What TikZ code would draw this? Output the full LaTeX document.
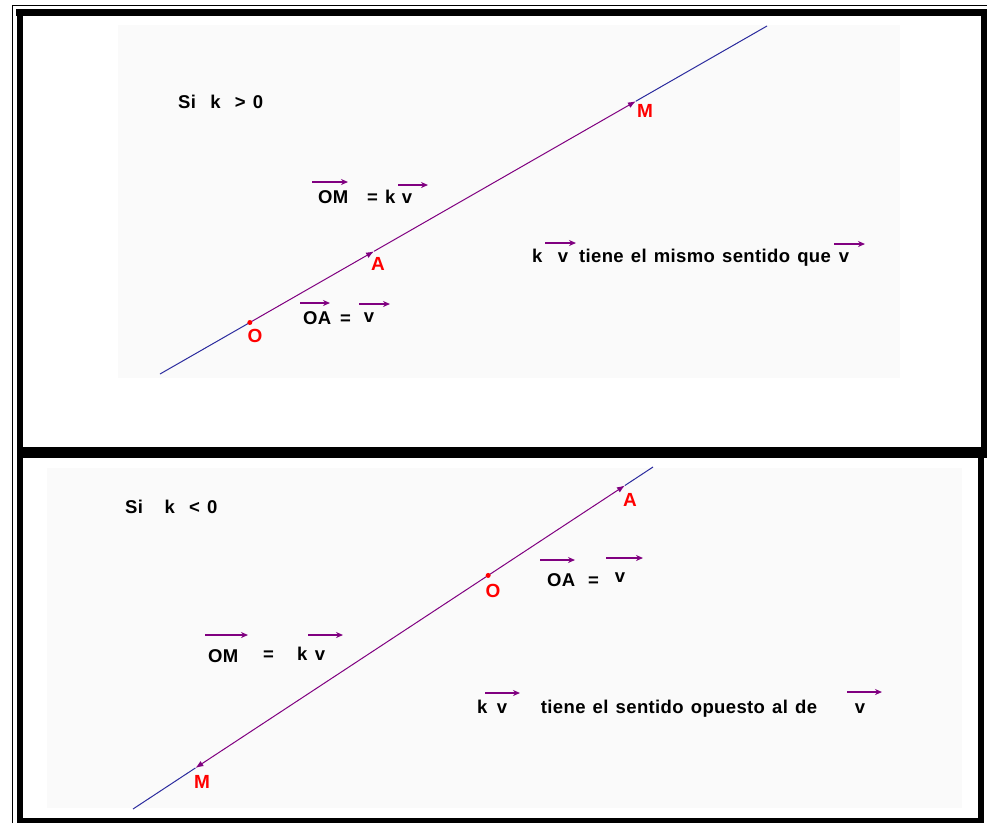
\documentclass[tikz,border=0pt]{standalone}
\usepackage{fontspec}
\newfontfamily\pixfont{Liberation Sans}[LetterSpace=2,WordSpace=1.3]
\usetikzlibrary{arrows.meta,calc}
\definecolor{vpurple}{HTML}{800080}
\definecolor{lblue}{HTML}{2B2B9E}
\definecolor{panelbg}{HTML}{FAFAFA}

\begin{document}
\begin{tikzpicture}[x=1pt, y=-1pt,
  txt/.style={font=\pixfont\bfseries\fontsize{18.5}{20}\selectfont, inner sep=0pt, anchor=base west},
  mid/.style={txt, anchor=base},
  pt/.style={font=\pixfont\bfseries\fontsize{19}{20}\selectfont, text=red, inner sep=0pt, anchor=base},
  vec/.style={vpurple, line width=1.2pt, -{Stealth[length=7pt,width=6pt]}},
  seg/.style={vpurple, line width=1pt, -{Latex[length=8pt,width=6pt]}},
  axis/.style={lblue, line width=1pt},
]
  \useasboundingbox (0,0) rectangle (987,823);
  \fill[panelbg] (118,25) rectangle (900,378);
  \fill[panelbg] (47,468) rectangle (962,808);
  \draw[line width=1pt] (12.5,823) -- (12.5,5.5) -- (987,5.5);
  \fill (16,9) rectangle (987,16);
  \fill (17,9) rectangle (23,823);
  \fill (17,447) rectangle (987,458);
  \fill (17,818) rectangle (981,823);
  \fill (981,9) rectangle (987,447);
  \fill (978,458) rectangle (984,823);

  \coordinate (p1) at (160,374);
  \coordinate (p2) at (767,26);
  \coordinate (O1) at ($(p1)!0.148!(p2)$);
  \coordinate (A1) at ($(p1)!0.3526!(p2)$);
  \coordinate (M1) at ($(p1)!0.784!(p2)$);
  \draw[axis] (p1) -- (O1);
  \draw[axis] (M1) -- (p2);
  \draw[seg] (O1) -- (A1);
  \draw[seg] (A1) -- (M1);
  \fill[red] (O1) circle (2.5);
  \node[pt] (lO1) at (255,342) {O};
  \node[pt] (lA1) at (378,270) {A};
  \node[pt] (lM1) at (645,117) {M};

  \node[txt] (cond1) at (178,108) {Si~~k~~>~0};
  \node[txt] (om1) at (318,203) {OM};
  \node[txt] (eq1) at (367,203) {= k};
  \node[mid] (v1) at (407,203) {v};
  \node[txt] (oa1) at (303,324) {OA};
  \node[txt] (eq2) at (340,324) {=};
  \node[mid] (v2) at (369,322) {v};
  \node[txt] (kk1) at (532,262) {k};
  \node[mid] (v3) at (563,262) {v};
  \node[mid] (same) at (705,262) {tiene el mismo sentido que};
  \node[mid] (v4) at (844,262) {v};
  \draw[vec] ([shift={(-6,-21)}]om1.base west) -- ++(36,0);
  \draw[vec] ([shift={(-9,-18)}]v1.base) -- ++(30,0);
  \draw[vec] ([shift={(-3,-21)}]oa1.base west) -- ++(30,0);
  \draw[vec] ([shift={(-10,-18)}]v2.base) -- ++(31,0);
  \draw[vec] ([shift={(-18,-19)}]v3.base) -- ++(31,0);
  \draw[vec] ([shift={(-10,-18)}]v4.base) -- ++(31,0);

  \coordinate (q1) at (133,809);
  \coordinate (q2) at (653,467);
  \coordinate (M2) at ($(q1)!0.12!(q2)$);
  \coordinate (O2) at ($(q1)!0.683!(q2)$);
  \coordinate (A2) at ($(q1)!0.946!(q2)$);
  \draw[axis] (q1) -- (M2);
  \draw[axis] (A2) -- (q2);
  \draw[seg] (O2) -- (A2);
  \draw[seg] (O2) -- (M2);
  \fill[red] (O2) circle (2.5);
  \node[pt] (lO2) at (493,597) {O};
  \node[pt] (lA2) at (630,506) {A};
  \node[pt] (lM2) at (202,788) {M};

  \node[txt] (cond2) at (125,513) {Si~~~k~~<~0};
  \node[txt] (om2) at (208,662) {OM};
  \node[txt] (eq3) at (263,660) {=};
  \node[txt] (kk2) at (297,660) {k};
  \node[mid] (v5) at (320,660) {v};
  \node[txt] (oa2) at (547,586) {OA};
  \node[txt] (eq4) at (588,586) {=};
  \node[mid] (v6) at (620,582) {v};
  \node[txt] (kk3) at (477,713) {k};
  \node[mid] (v7) at (502,713) {v};
  \node[mid] (opp) at (679,713) {tiene el sentido opuesto al de};
  \node[mid] (v8) at (860,713) {v};
  \draw[vec] ([shift={(-3,-27)}]om2.base west) -- ++(43,0);
  \draw[vec] ([shift={(-12,-25)}]v5.base) -- ++(35,0);
  \draw[vec] ([shift={(-7,-26)}]oa2.base west) -- ++(35,0);
  \draw[vec] ([shift={(-14,-24)}]v6.base) -- ++(37,0);
  \draw[vec] ([shift={(-17,-20)}]v7.base) -- ++(35,0);
  \draw[vec] ([shift={(-13,-21)}]v8.base) -- ++(35,0);
\end{tikzpicture}
\end{document}
